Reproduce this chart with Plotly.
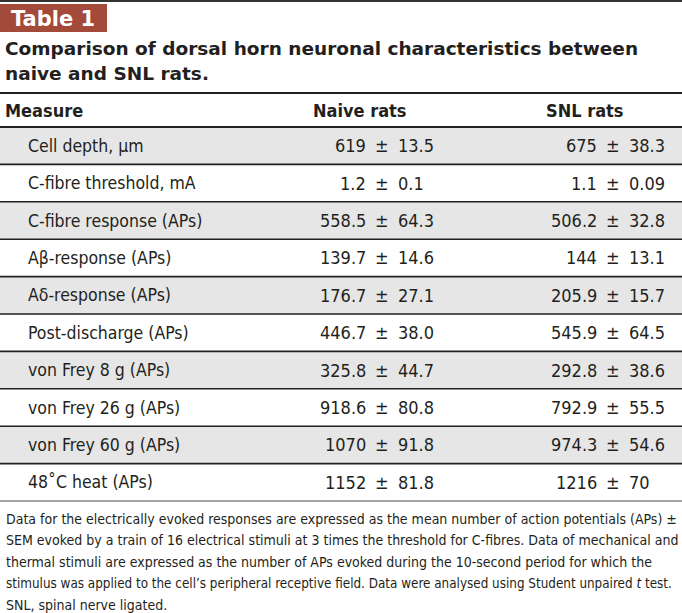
import plotly.graph_objects as go

# ---- data ----
badge_text = "Table 1"
title_lines = ["Comparison of dorsal horn neuronal characteristics between",
               "naive and SNL rats."]
headers = ["Measure", "Naive rats", "SNL rats"]
measures = ["Cell depth, μm", "C-fibre threshold, mA", "C-fibre response (APs)",
            "Aβ-response (APs)", "Aδ-response (APs)", "Post-discharge (APs)",
            "von Frey 8 g (APs)", "von Frey 26 g (APs)", "von Frey 60 g (APs)",
            "48˚C heat (APs)"]
naive_mean = ["619", "1.2", "558.5", "139.7", "176.7", "446.7", "325.8", "918.6", "1070", "1152"]
naive_sem = ["13.5", "0.1", "64.3", "14.6", "27.1", "38.0", "44.7", "80.8", "91.8", "81.8"]
snl_mean = ["675", "1.1", "506.2", "144", "205.9", "545.9", "292.8", "792.9", "974.3", "1216"]
snl_sem = ["38.3", "0.09", "32.8", "13.1", "15.7", "64.5", "38.6", "55.5", "54.6", "70"]
footnote_lines = [
    "Data for the electrically evoked responses are expressed as the mean number of action potentials (APs) ±",
    "SEM evoked by a train of 16 electrical stimuli at 3 times the threshold for C-fibres. Data of mechanical and",
    "thermal stimuli are expressed as the number of APs evoked during the 10-second period for which the",
    "stimulus was applied to the cell’s peripheral receptive field. Data were analysed using Student unpaired <i>t</i> test.",
    "SNL, spinal nerve ligated.",
]
footnote_sizes = [14.0, 14.0, 14.0, 13.35, 14.0]

# ---- style ----
W, H = 682, 613
INK = "#231f20"
BADGE = "#a34a3b"
STRIPE = "#e6e6e6"
NARROW = "Liberation Sans Narrow, DejaVu Sans Condensed, Arial Narrow, sans-serif"
WIDE = "DejaVu Sans, Liberation Sans, Arial, sans-serif"

table_top = 93
header_bottom = 127
row_h = 37.4
pm_naive = 381.5
pm_snl = 612.5

fig = go.Figure()
shapes = []
ann = []

# top rule
shapes.append(dict(type="line", x0=0, x1=W, y0=1, y1=1, line=dict(color="#333", width=2)))
# badge
shapes.append(dict(type="rect", x0=0, x1=107, y0=4, y1=32, fillcolor=BADGE, line=dict(width=0)))
ann.append(dict(x=9, y=18.5, text="<b>%s</b>" % badge_text, xanchor="left", yanchor="middle",
                font=dict(family=WIDE, size=21, color="white")))
# title
for i, t in enumerate(title_lines):
    ann.append(dict(x=3, y=48 + i * 25, text="<b>%s</b>" % t, xanchor="left", yanchor="middle",
                    font=dict(family=WIDE, size=18.5, color=INK)))

# stripes and rules
n = len(measures)
for i in range(n):
    y0 = header_bottom + i * row_h
    if i % 2 == 0:
        shapes.append(dict(type="rect", x0=0, x1=W, y0=y0, y1=y0 + row_h, fillcolor=STRIPE,
                           line=dict(width=0), layer="below"))
shapes.append(dict(type="line", x0=0, x1=W, y0=table_top, y1=table_top, line=dict(color=INK, width=2)))
shapes.append(dict(type="line", x0=0, x1=W, y0=header_bottom, y1=header_bottom, line=dict(color=INK, width=2)))
for i in range(1, n):
    y = header_bottom + i * row_h
    shapes.append(dict(type="line", x0=0, x1=W, y0=y, y1=y, line=dict(color=INK, width=1.6)))
yb = header_bottom + n * row_h
shapes.append(dict(type="line", x0=0, x1=W, y0=yb, y1=yb, line=dict(color="#888", width=1.5)))

# header
hy = (table_top + header_bottom) / 2
hf = dict(family=NARROW, size=18, color=INK)
ann.append(dict(x=3, y=hy, text="<b>%s</b>" % headers[0], xanchor="left", yanchor="middle", font=hf))
ann.append(dict(x=409, y=hy, text="<b>%s</b>" % headers[1], xanchor="right", yanchor="middle", font=hf))
ann.append(dict(x=625, y=hy, text="<b>%s</b>" % headers[2], xanchor="right", yanchor="middle", font=hf))

cf = dict(family=NARROW, size=18, color=INK)
lf = dict(family=NARROW, size=17.5, color=INK)
for i in range(n):
    yc = header_bottom + (i + 0.5) * row_h
    ann.append(dict(x=26, y=yc, text=measures[i], xanchor="left", yanchor="middle", font=lf))
    for pm, m, s in ((pm_naive, naive_mean[i], naive_sem[i]), (pm_snl, snl_mean[i], snl_sem[i])):
        ann.append(dict(x=pm - 14, y=yc, text=m, xanchor="right", yanchor="middle", font=cf))
        ann.append(dict(x=pm, y=yc, text="±", xanchor="center", yanchor="middle", font=cf))
        ann.append(dict(x=pm + 14, y=yc, text=s, xanchor="left", yanchor="middle", font=cf))

for i, t in enumerate(footnote_lines):
    ann.append(dict(x=4, y=518.5 + i * 21.6, text=t, xanchor="left", yanchor="middle",
                    font=dict(family=NARROW, size=footnote_sizes[i], color=INK)))

for a in ann:
    a.update(xref="x", yref="y", showarrow=False)

fig.update_layout(
    width=W, height=H, margin=dict(l=0, r=0, t=0, b=0),
    paper_bgcolor="white", plot_bgcolor="white",
    xaxis=dict(range=[0, W], visible=False, fixedrange=True),
    yaxis=dict(range=[H, 0], visible=False, fixedrange=True),
    shapes=shapes, annotations=ann, showlegend=False,
)
fig.write_html("out.html", config={"displayModeBar": False},
               post_script="document.body.style.margin='0';document.body.style.overflow='hidden';")
